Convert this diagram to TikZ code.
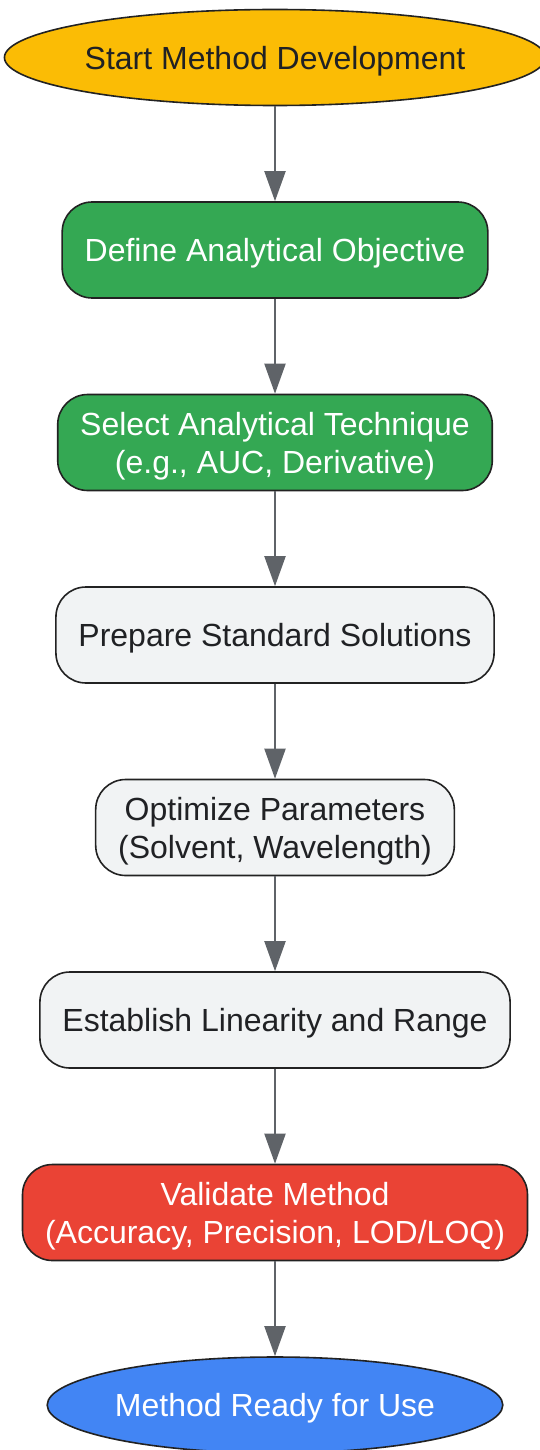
\documentclass[tikz,border=0pt]{standalone}
\usepackage{fontspec}
\setmainfont{Liberation Sans}
\usetikzlibrary{positioning,shapes.geometric,arrows.meta}

\definecolor{startcol}{HTML}{FBBC05}
\definecolor{greencol}{HTML}{34A853}
\definecolor{greycol}{HTML}{F1F3F4}
\definecolor{redcol}{HTML}{EA4335}
\definecolor{bluecol}{HTML}{4285F4}
\definecolor{linecol}{HTML}{5F6368}
\definecolor{edgecol}{HTML}{222222}
\definecolor{textcol}{HTML}{202124}

\begin{document}
\begin{tikzpicture}[x=1pt,y=1pt,
    node distance=94.9pt,
    font=\fontsize{32pt}{38pt}\selectfont,
    base/.style={draw=edgecol, line width=1.6pt, minimum height=96pt, align=center, text=textcol, text depth=0pt},
    terminal/.style={base, ellipse, inner xsep=1pt, inner ysep=0pt},
    stepbox/.style={base, rounded corners=30pt, inner xsep=22.5pt},
    flow/.style={draw=linecol, line width=2pt, -{Triangle[length=30pt,width=21pt]}}]
\useasboundingbox (0,0) rectangle (540,-1450);

\node[terminal, fill=startcol] (start) at (275,-57.5) {Start Method Development};
\node[stepbox, fill=greencol, text=white, below=of start] (objective) {Define Analytical Objective};
\node[stepbox, fill=greencol, text=white, below=of objective] (technique) {Select Analytical Technique\\(e.g., AUC, Derivative)};
\node[stepbox, fill=greycol, below=of technique] (prepare) {Prepare Standard Solutions};
\node[stepbox, fill=greycol, below=of prepare] (optimize) {Optimize Parameters\\(Solvent, Wavelength)};
\node[stepbox, fill=greycol, below=of optimize] (linearity) {Establish Linearity and Range};
\node[stepbox, fill=redcol, text=white, below=of linearity] (validate) {Validate Method\\(Accuracy, Precision, LOD/LOQ)};
\node[terminal, fill=bluecol, text=white, below=of validate] (ready) {Method Ready for Use};

\draw[flow] (start) -- (objective);
\draw[flow] (objective) -- (technique);
\draw[flow] (technique) -- (prepare);
\draw[flow] (prepare) -- (optimize);
\draw[flow] (optimize) -- (linearity);
\draw[flow] (linearity) -- (validate);
\draw[flow] (validate) -- (ready);
\end{tikzpicture}
\end{document}
